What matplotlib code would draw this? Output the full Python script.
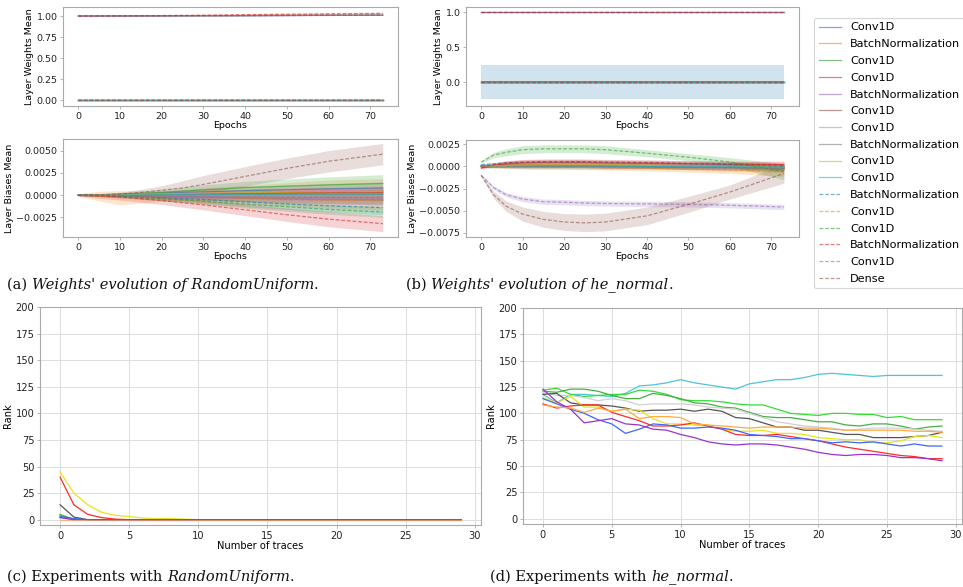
import numpy as np
import matplotlib
matplotlib.use("Agg")
import matplotlib.pyplot as plt

W, H = 963, 587

layer_names = ["Conv1D", "BatchNormalization", "Conv1D", "Conv1D", "BatchNormalization",
               "Conv1D", "Conv1D", "BatchNormalization", "Conv1D", "Conv1D",
               "BatchNormalization", "Conv1D", "Conv1D", "BatchNormalization", "Conv1D", "Dense"]

### weights (sampled epochs) ###
w_epochs = [0, 10, 20, 30, 40, 50, 60, 73]

ru_w_mean = [
    [0, 0, 0, 0, 0, 0, 0, 0],
    [1.0, 1.001, 1.002, 1.003, 1.005, 1.007, 1.009, 1.012],
    [0, 0, 0, 0, 0, 0, 0, 0],
    [0, 0, 0, 0, 0, 0, 0, 0],
    [1.0, 1.001, 1.002, 1.003, 1.004, 1.006, 1.008, 1.010],
    [0, 0, 0, 0, 0, 0, 0, 0],
    [0, 0, 0, 0, 0, 0, 0, 0],
    [1.0, 1.001, 1.002, 1.004, 1.005, 1.007, 1.009, 1.011],
    [0, 0, 0, 0, 0, 0, 0, 0],
    [0, 0, 0, 0, 0, 0, 0, 0],
    [1.0, 1.001, 1.002, 1.003, 1.004, 1.005, 1.007, 1.009],
    [0, 0, 0, 0, 0, 0, 0, 0],
    [0, 0, 0, 0, 0, 0, 0, 0],
    [1.0, 1.002, 1.005, 1.010, 1.016, 1.021, 1.026, 1.032],
    [0, 0, 0, 0, 0, 0, 0, 0],
    [0, 0, 0, 0, 0, 0, 0, 0.001],
]
ru_w_std = [0.003, 0.002, 0.003, 0.003, 0.002, 0.003, 0.003, 0.002,
            0.003, 0.003, 0.002, 0.003, 0.003, 0.009, 0.003, 0.003]

hn_w_mean = [
    [0, 0, 0, 0, 0, 0, 0, 0],
    [1.0, 1.0, 1.0, 1.0, 1.0, 1.0, 1.0, 1.0],
    [0, 0, 0, 0, 0, 0, 0, 0],
    [0, 0, 0, 0, 0, 0, 0, 0],
    [1.0, 1.0, 1.0, 1.0, 1.0, 1.0, 1.0, 1.0],
    [0, 0, 0, 0, 0, 0, 0, 0],
    [0, 0, 0, 0, 0, 0, 0, 0],
    [1.0, 1.0, 1.0, 1.0, 1.0, 1.0, 1.0, 1.0],
    [0, 0, 0, 0, 0, 0, 0, 0],
    [0, 0, 0, 0, 0, 0, 0, 0],
    [1.0, 1.0, 1.0, 1.0, 1.0, 1.0, 1.0, 1.0],
    [0, 0, 0, 0, 0, 0, 0, 0],
    [0, 0, 0, 0, 0, 0, 0, 0],
    [1.0, 1.0, 1.0, 1.0, 1.0, 1.0, 1.0, 1.0],
    [0, 0, 0, 0, 0, 0, 0, 0],
    [0, 0, 0, 0, 0, 0, 0, 0],
]
hn_w_std = [0.24, 0.003, 0.015, 0.015, 0.003, 0.015, 0.015, 0.003,
            0.015, 0.015, 0.003, 0.015, 0.015, 0.003, 0.015, 0.02]

### biases (x1e-3, sampled epochs) ###
b_epochs = [0, 3, 6, 10, 15, 20, 25, 30, 40, 50, 60, 73]

ru_b_mean = [
    [0, 0.02, 0.05, 0.1, 0.15, 0.2, 0.3, 0.35, 0.5, 0.6, 0.7, 0.8],
    [0, -0.05, -0.15, -0.3, -0.2, -0.1, 0.0, 0.1, 0.2, 0.3, 0.4, 0.45],
    [0, 0.02, 0.05, 0.1, 0.2, 0.3, 0.45, 0.6, 0.85, 1.0, 1.15, 1.3],
    [0, 0.0, 0.02, 0.05, 0.08, 0.1, 0.12, 0.15, 0.2, 0.25, 0.3, 0.3],
    [0, -0.02, -0.04, -0.08, -0.12, -0.16, -0.2, -0.25, -0.32, -0.4, -0.45, -0.5],
    [0, 0.01, 0.02, 0.03, 0.05, 0.07, 0.09, 0.1, 0.1, 0.1, 0.1, 0.1],
    [0, 0.02, 0.04, 0.08, 0.12, 0.15, 0.2, 0.25, 0.35, 0.45, 0.5, 0.6],
    [0, -0.02, -0.05, -0.08, -0.12, -0.18, -0.22, -0.28, -0.35, -0.45, -0.52, -0.6],
    [0, 0.01, 0.03, 0.06, 0.1, 0.14, 0.18, 0.22, 0.28, 0.34, 0.38, 0.4],
    [0, 0.01, 0.02, 0.03, 0.04, 0.05, 0.06, 0.07, 0.08, 0.09, 0.1, 0.1],
    [0, -0.02, -0.05, -0.1, -0.18, -0.28, -0.38, -0.48, -0.75, -1.0, -1.2, -1.4],
    [0, -0.01, -0.03, -0.06, -0.1, -0.15, -0.2, -0.25, -0.35, -0.45, -0.55, -0.65],
    [0, -0.03, -0.06, -0.12, -0.25, -0.4, -0.55, -0.7, -1.0, -1.3, -1.6, -1.9],
    [0, -0.05, -0.1, -0.2, -0.4, -0.6, -0.85, -1.1, -1.65, -2.2, -2.7, -3.2],
    [0, -0.01, -0.02, -0.05, -0.08, -0.12, -0.15, -0.18, -0.22, -0.26, -0.28, -0.3],
    [0, 0.02, 0.05, 0.12, 0.3, 0.55, 0.8, 1.2, 2.1, 3.0, 3.8, 4.6],
]
ru_b_std = [
    [0.05, 0.08, 0.1, 0.15, 0.2, 0.25, 0.3, 0.35, 0.45, 0.55, 0.6, 0.7],
    [0.15, 0.4, 0.6, 0.8, 0.7, 0.6, 0.6, 0.7, 0.9, 1.1, 1.3, 1.4],
    [0.05, 0.08, 0.1, 0.15, 0.25, 0.35, 0.45, 0.55, 0.7, 0.8, 0.9, 1.0],
    [0.05, 0.08, 0.1, 0.15, 0.2, 0.25, 0.3, 0.35, 0.45, 0.5, 0.55, 0.6],
    [0.05, 0.08, 0.1, 0.15, 0.2, 0.25, 0.3, 0.35, 0.45, 0.5, 0.55, 0.6],
    [0.05, 0.06, 0.08, 0.1, 0.15, 0.2, 0.25, 0.3, 0.35, 0.4, 0.45, 0.5],
    [0.05, 0.06, 0.08, 0.1, 0.15, 0.2, 0.25, 0.3, 0.35, 0.4, 0.45, 0.5],
    [0.05, 0.06, 0.08, 0.1, 0.15, 0.2, 0.25, 0.3, 0.35, 0.4, 0.45, 0.5],
    [0.05, 0.06, 0.08, 0.1, 0.15, 0.2, 0.25, 0.3, 0.35, 0.4, 0.45, 0.5],
    [0.05, 0.06, 0.08, 0.1, 0.15, 0.2, 0.25, 0.3, 0.35, 0.4, 0.45, 0.5],
    [0.05, 0.1, 0.15, 0.2, 0.3, 0.35, 0.4, 0.45, 0.55, 0.6, 0.7, 0.8],
    [0.05, 0.1, 0.15, 0.2, 0.3, 0.4, 0.5, 0.6, 0.7, 0.8, 0.9, 1.0],
    [0.05, 0.08, 0.1, 0.15, 0.2, 0.25, 0.3, 0.35, 0.45, 0.5, 0.55, 0.6],
    [0.1, 0.2, 0.3, 0.35, 0.4, 0.45, 0.5, 0.55, 0.65, 0.75, 0.85, 0.9],
    [0.05, 0.06, 0.08, 0.1, 0.12, 0.15, 0.18, 0.2, 0.25, 0.3, 0.3, 0.3],
    [0.05, 0.1, 0.15, 0.2, 0.35, 0.5, 0.8, 1.0, 1.1, 1.15, 1.2, 1.2],
]

hn_b_mean = [
    [0.1, 0.1, 0.1, 0.05, 0, 0, 0, 0, 0, 0, 0, -0.1],
    [0, 0.1, 0.15, 0.2, 0.2, 0.2, 0.2, 0.15, 0.1, 0.0, -0.1, -0.2],
    [0.1, 0.1, 0.1, 0.1, 0.1, 0.1, 0.1, 0.05, 0.0, -0.05, -0.1, -0.2],
    [-0.2, 0.1, 0.3, 0.4, 0.45, 0.45, 0.45, 0.4, 0.35, 0.3, 0.25, 0.2],
    [0, 0.05, 0.1, 0.1, 0.1, 0.1, 0.05, 0.0, -0.05, -0.1, -0.15, -0.2],
    [0, 0.0, 0.05, 0.05, 0.05, 0.05, 0.05, 0.05, 0.0, 0.0, 0.0, -0.1],
    [0, 0.05, 0.1, 0.15, 0.15, 0.15, 0.15, 0.1, 0.1, 0.05, 0.0, -0.1],
    [0, 0.0, 0.0, 0.0, 0.0, 0.0, 0.0, -0.05, -0.05, -0.1, -0.1, -0.2],
    [0, 0.05, 0.1, 0.15, 0.2, 0.2, 0.2, 0.2, 0.15, 0.1, 0.05, 0.0],
    [0, 0.0, 0.0, 0.05, 0.05, 0.05, 0.05, 0.05, 0.0, 0.0, 0.0, -0.1],
    [0.2, 0.3, 0.4, 0.45, 0.5, 0.5, 0.5, 0.45, 0.4, 0.3, 0.2, 0.0],
    [0, 0, -0.05, -0.1, -0.1, -0.1, -0.1, -0.15, -0.2, -0.3, -0.4, -0.6],
    [0.5, 1.3, 1.6, 1.9, 2.0, 2.0, 2.0, 1.9, 1.5, 1.05, 0.5, -0.6],
    [-0.1, 0.2, 0.4, 0.5, 0.55, 0.55, 0.55, 0.5, 0.45, 0.35, 0.3, 0.2],
    [-1.0, -2.4, -3.2, -3.7, -4.0, -4.05, -4.15, -4.2, -4.25, -4.3, -4.4, -4.6],
    [-1.0, -3.2, -4.5, -5.4, -6.0, -6.3, -6.4, -6.3, -5.6, -4.3, -2.9, -0.8],
]
hn_b_std = [
    [0.1, 0.2, 0.25, 0.3, 0.3, 0.3, 0.3, 0.3, 0.3, 0.3, 0.3, 0.35],
    [0.1, 0.2, 0.3, 0.35, 0.35, 0.35, 0.35, 0.35, 0.35, 0.4, 0.45, 0.5],
    [0.1, 0.15, 0.2, 0.2, 0.2, 0.2, 0.2, 0.2, 0.2, 0.25, 0.3, 0.35],
    [0.1, 0.2, 0.3, 0.35, 0.35, 0.35, 0.35, 0.35, 0.35, 0.35, 0.35, 0.4],
    [0.1, 0.15, 0.2, 0.2, 0.2, 0.2, 0.2, 0.2, 0.2, 0.25, 0.3, 0.3],
    [0.1, 0.15, 0.15, 0.15, 0.15, 0.15, 0.15, 0.15, 0.15, 0.2, 0.2, 0.25],
    [0.1, 0.15, 0.15, 0.15, 0.15, 0.15, 0.15, 0.15, 0.15, 0.2, 0.2, 0.25],
    [0.1, 0.15, 0.15, 0.15, 0.15, 0.15, 0.15, 0.15, 0.15, 0.2, 0.2, 0.25],
    [0.1, 0.15, 0.15, 0.15, 0.15, 0.15, 0.15, 0.15, 0.15, 0.2, 0.2, 0.25],
    [0.1, 0.15, 0.15, 0.15, 0.15, 0.15, 0.15, 0.15, 0.15, 0.2, 0.2, 0.25],
    [0.1, 0.15, 0.2, 0.2, 0.2, 0.2, 0.2, 0.2, 0.2, 0.25, 0.3, 0.3],
    [0.1, 0.15, 0.2, 0.2, 0.2, 0.2, 0.25, 0.25, 0.3, 0.35, 0.4, 0.5],
    [0.1, 0.3, 0.4, 0.45, 0.45, 0.45, 0.45, 0.45, 0.4, 0.4, 0.5, 0.9],
    [0.1, 0.2, 0.25, 0.3, 0.3, 0.3, 0.3, 0.3, 0.3, 0.3, 0.3, 0.3],
    [0.05, 0.2, 0.25, 0.3, 0.3, 0.3, 0.3, 0.3, 0.3, 0.3, 0.3, 0.3],
    [0.1, 0.4, 0.6, 0.8, 0.9, 0.95, 1.0, 1.0, 1.0, 0.9, 0.8, 1.1],
]

### rank experiments ###
traces = list(range(30))
rank_colors = ["#4fc3d9", "#33dd33", "#44b044", "#d0d0d0", "#555555",
               "#e5e51a", "#ff2a2a", "#3f66ff", "#9933cc", "#ffaa40"]

ru_rank = [
    [2, 0, 0, 0, 0, 0, 0, 0, 0, 0, 0, 0, 0, 0, 0, 0, 0, 0, 0, 0, 0, 0, 0, 0, 0, 0, 0, 0, 0, 0],
    [4, 0.5, 0, 0, 0, 0, 0, 0, 0, 0, 0, 0, 0, 0, 0, 0, 0, 0, 0, 0, 0, 0, 0, 0, 0, 0, 0, 0, 0, 0],
    [5, 0, 0, 0, 0, 0, 0, 0, 0, 0, 0, 0, 0, 0, 0, 0, 0, 0, 0, 0, 0, 0, 0, 0, 0, 0, 0, 0, 0, 0],
    [0, 0, 0, 0, 0, 0, 0, 0, 0, 0, 0, 0, 0, 0, 0, 0, 0, 0, 0, 0, 0, 0, 0, 0, 0, 0, 0, 0, 0, 0],
    [14, 2.5, 0, 0, 0, 0, 0, 0, 0, 0, 0, 0, 0, 0, 0, 0, 0, 0, 0, 0, 0, 0, 0, 0, 0, 0, 0, 0, 0, 0],
    [45, 25, 14, 7, 4, 3, 1.5, 1, 1, 0.5, 0, 0, 0, 0, 0, 0, 0, 0, 0, 0, 0, 0, 0, 0, 0, 0, 0, 0, 0, 0],
    [40, 14, 5, 2, 0.5, 0, 0, 0, 0, 0, 0, 0, 0, 0, 0, 0, 0, 0, 0, 0, 0, 0, 0, 0, 0, 0, 0, 0, 0, 0],
    [3, 1, 0, 0, 0, 0, 0, 0, 0, 0, 0, 0, 0, 0, 0, 0, 0, 0, 0, 0, 0, 0, 0, 0, 0, 0, 0, 0, 0, 0],
    [2, 0, 0, 0, 0, 0, 0, 0, 0, 0, 0, 0, 0, 0, 0, 0, 0, 0, 0, 0, 0, 0, 0, 0, 0, 0, 0, 0, 0, 0],
    [0, 0, 0, 0, 0, 0, 0, 0, 0, 0, 0, 0, 0, 0, 0, 0, 0, 0, 0, 0, 0, 0, 0, 0, 0, 0, 0, 0, 0, 0],
]

hn_rank = [
    [118, 110, 118, 118, 117, 116, 119, 126, 127, 129, 132, 129, 127, 125, 123, 128, 130, 132, 132, 134, 137, 138, 137, 136, 135, 136, 136, 136, 136, 136],
    [122, 124, 118, 116, 117, 118, 118, 122, 121, 118, 113, 112, 112, 111, 109, 108, 108, 104, 100, 99, 98, 100, 100, 99, 99, 96, 97, 94, 94, 94],
    [121, 120, 123, 123, 121, 117, 114, 114, 119, 117, 114, 110, 109, 106, 105, 101, 97, 96, 96, 94, 92, 92, 89, 88, 90, 90, 88, 85, 87, 88],
    [120, 117, 117, 115, 112, 114, 112, 108, 109, 109, 109, 108, 106, 105, 104, 100, 96, 92, 90, 88, 87, 86, 84, 85, 86, 86, 86, 85, 84, 83],
    [118, 119, 110, 108, 108, 107, 105, 102, 103, 103, 104, 102, 104, 102, 96, 95, 91, 87, 87, 84, 84, 82, 80, 80, 77, 77, 77, 78, 79, 82],
    [115, 110, 116, 106, 106, 102, 104, 103, 95, 90, 90, 89, 88, 85, 83, 83, 84, 81, 81, 80, 77, 76, 75, 75, 72, 72, 74, 78, 79, 77],
    [109, 105, 107, 108, 108, 101, 97, 93, 88, 88, 89, 91, 88, 85, 80, 79, 79, 80, 78, 76, 74, 71, 68, 66, 64, 62, 60, 59, 57, 57],
    [114, 109, 104, 100, 94, 90, 81, 85, 90, 89, 86, 86, 87, 86, 84, 80, 79, 78, 76, 76, 74, 72, 73, 72, 73, 71, 69, 71, 69, 69],
    [123, 111, 104, 91, 93, 95, 90, 89, 85, 84, 80, 77, 73, 71, 70, 71, 71, 70, 68, 66, 63, 61, 60, 61, 61, 60, 58, 58, 57, 55],
    [108, 106, 105, 101, 105, 102, 104, 95, 97, 97, 96, 90, 89, 88, 87, 86, 87, 87, 87, 86, 86, 85, 84, 84, 84, 84, 84, 83, 83, 82],
]

tab10 = plt.rcParams['axes.prop_cycle'].by_key()['color']
tick_fs = 6.8
lab_fs = 6.8
spine_col = "#aaaaaa"


def px_axes(fig, left, top, right, bottom):
	return fig.add_axes([left / W, 1 - bottom / H, (right - left) / W, (bottom - top) / H])


def style_axes(ax, fs):
	for s in ax.spines.values():
		s.set_color(spine_col)
	ax.tick_params(labelsize=fs, labelcolor="#222222", color=spine_col, length=2.5, width=0.6, pad=1.5)


def draw_layers(ax, x, means, stds, scale=1.0):
	for i, name in enumerate(layer_names):
		m = np.array(means[i]) * scale
		s = np.array(stds[i]) * scale
		c = tab10[i % 10]
		ls = "-" if i < 10 else (0, (3, 1.5))
		ax.plot(x, m, color=c, linestyle=ls, linewidth=0.9, alpha=0.6, label=name)
		ax.fill_between(x, m - s, m + s, color=c, alpha=0.2, linewidth=0)


def label_axes(ax, ylab, xlab, fs):
	ax.set_ylabel(ylab, fontsize=fs, labelpad=1.5)
	ax.set_xlabel(xlab, fontsize=fs, labelpad=0.5)


fig = plt.figure(figsize=(W / 100, H / 100), dpi=100)

# (a) RandomUniform
ax = px_axes(fig, 63, 7, 398, 106)
draw_layers(ax, w_epochs, ru_w_mean, [[s] * len(w_epochs) for s in ru_w_std])
ax.set_ylim(-0.07, 1.107)
label_axes(ax, "Layer Weights Mean", "Epochs", lab_fs)
style_axes(ax, tick_fs)

ax = px_axes(fig, 63, 139, 398, 237)
draw_layers(ax, b_epochs, ru_b_mean, ru_b_std, 1e-3)
ax.set_ylim(-0.0047, 0.0063)
label_axes(ax, "Layer Biases Mean", "Epochs", lab_fs)
style_axes(ax, tick_fs)

# (b) he_normal
ax = px_axes(fig, 466, 7, 799, 106)
draw_layers(ax, w_epochs, hn_w_mean, [[s] * len(w_epochs) for s in hn_w_std])
ax.set_ylim(-0.34, 1.076)
label_axes(ax, "Layer Weights Mean", "Epochs", lab_fs)
style_axes(ax, tick_fs)

ax = px_axes(fig, 466, 140, 799, 237)
draw_layers(ax, b_epochs, hn_b_mean, hn_b_std, 1e-3)
ax.set_ylim(-0.0080, 0.0030)
label_axes(ax, "Layer Biases Mean", "Epochs", lab_fs)
style_axes(ax, tick_fs)

handles, labels = ax.get_legend_handles_labels()
leg = fig.legend(handles, labels, loc="upper left", bbox_to_anchor=(814 / W, 1 - 18 / H),
                 borderaxespad=0, fontsize=8.1, frameon=True, fancybox=True, labelspacing=0.6)
leg.get_frame().set_edgecolor("#cccccc")
leg.get_frame().set_linewidth(0.8)

# (c), (d) rank experiments
for (l, t, r, b), data in [((40, 307, 481, 525), ru_rank), ((523, 308, 962, 524), hn_rank)]:
	ax = px_axes(fig, l, t, r, b)
	for i in range(len(data)):
		a = 0.55 if (data is ru_rank and i == 9) else 1.0
		ax.plot(traces, data[i], color=rank_colors[i], linewidth=0.9, alpha=a)
	ax.set_ylim(-5, 200)
	ax.set_yticks(range(0, 201, 25))
	ax.set_xticks(range(0, 31, 5))
	ax.grid(True, color="#dddddd", linewidth=0.7)
	ax.set_axisbelow(True)
	label_axes(ax, "Rank", "Number of traces", 7.1)
	style_axes(ax, 7.1)

# captions
renderer = fig.canvas.get_renderer()
cap_fs = 10.5


def caption(x, y, parts):
	for txt, sty in parts:
		t = fig.text(x / W, 1 - y / H, txt, fontsize=cap_fs, family="DejaVu Serif",
		             style=sty, va="center", ha="left", color="#111111")
		x += t.get_window_extent(renderer).width


caption(7, 285, [("(a) ", "normal"), ("Weights' evolution of RandomUniform", "italic"), (".", "normal")])
caption(406, 285, [("(b) ", "normal"), ("Weights' evolution of he_normal", "italic"), (".", "normal")])
caption(7, 577, [("(c) Experiments with ", "normal"), ("RandomUniform", "italic"), (".", "normal")])
caption(490, 577, [("(d) Experiments with ", "normal"), ("he_normal", "italic"), (".", "normal")])

fig.savefig("out.png", dpi=100)
